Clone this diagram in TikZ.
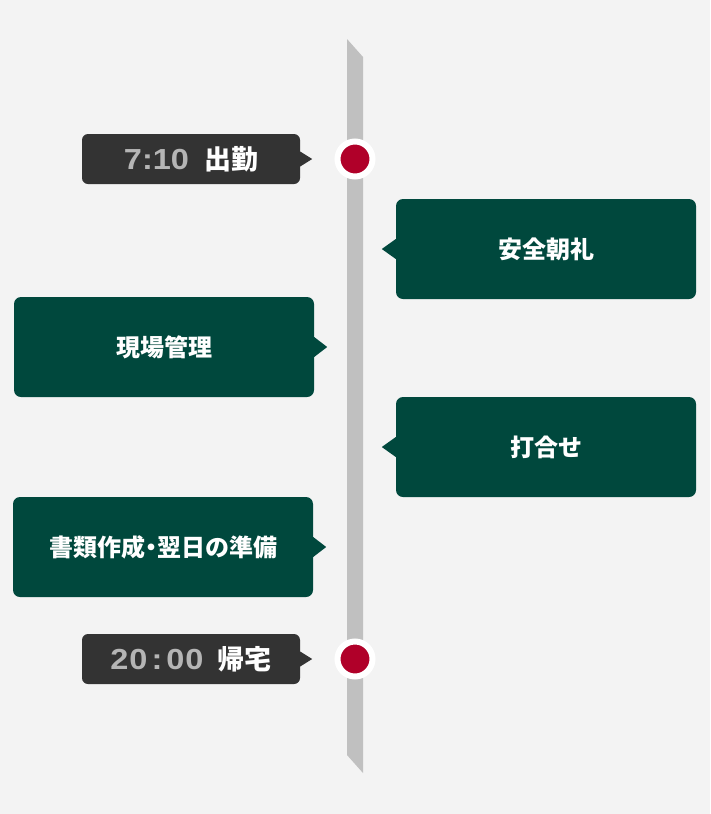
\documentclass[tikz,border=0pt]{standalone}
\usepackage{fontspec}
\newfontfamily\jp{Noto Sans CJK JP}
\newfontfamily\num{Liberation Sans}[FakeStretch=1.12]
\definecolor{bg}{HTML}{F3F3F3}
\definecolor{barc}{HTML}{C0C0C0}
\definecolor{darkc}{HTML}{333333}
\definecolor{greenc}{HTML}{00483D}
\definecolor{redc}{HTML}{B00029}
\definecolor{numc}{HTML}{B5B5B5}
\tikzset{
  timebox/.style={fill=darkc, rounded corners=6pt, minimum width=218pt, minimum height=50pt, inner sep=0pt, text=white},
  eventbox/.style={fill=greenc, rounded corners=7pt, minimum width=300pt, minimum height=100pt, inner sep=0pt, text=white, font=\jp\bfseries\fontsize{24pt}{28pt}\selectfont},
  dot/.style={circle, fill=redc, draw=white, line width=6pt, minimum size=35pt, inner sep=0pt},
}
\begin{document}
\begin{tikzpicture}[x=1pt,y=-1pt]
\fill[bg] (0,0) rectangle (710,814);
\useasboundingbox (0,0) rectangle (710,814);
% timeline bar
\fill[barc] (347,39) -- (363,57) -- (363,773) -- (347,755) -- cycle;
% dots
\node[dot] (d1) at (355,159) {};
\node[dot] (d2) at (355,659) {};
% time boxes
\node[timebox] (t1) at (191,159) {{\num\bfseries\fontsize{29pt}{32pt}\selectfont\color{numc}7:10}\hspace{15pt}{\jp\bfseries\fontsize{27pt}{30pt}\selectfont 出勤}};
\fill[darkc] (t1.east) ++(0,-7.5) -- ++(12,7.5) -- ++(-12,7.5) -- cycle;
\node[timebox] (t2) at (191,659) {{\num\bfseries\fontsize{29pt}{32pt}\selectfont\color{numc}2\kern1pt0\kern4pt:\kern4pt0\kern1pt0}\hspace{14pt}{\jp\bfseries\fontsize{27pt}{30pt}\selectfont 帰宅}};
\fill[darkc] (t2.east) ++(0,-7.5) -- ++(12,7.5) -- ++(-12,7.5) -- cycle;
% events
\node[eventbox] (e1) at (546,249) {安全朝礼};
\fill[greenc] (e1.west) ++(0,-10) -- ++(-14,10) -- ++(14,10) -- cycle;
\node[eventbox] (e2) at (164,347) {現場管理};
\fill[greenc] (e2.east) ++(0,-10) -- ++(13,10) -- ++(-13,10) -- cycle;
\node[eventbox] (e3) at (546,447) {打合せ};
\fill[greenc] (e3.west) ++(0,-10) -- ++(-14,10) -- ++(14,10) -- cycle;
\node[eventbox] (e4) at (163,547) {書類作成\hspace{-6pt}・\hspace{-6pt}翌日の準備};
\fill[greenc] (e4.east) ++(0,-10) -- ++(13,10) -- ++(-13,10) -- cycle;
\end{tikzpicture}
\end{document}
